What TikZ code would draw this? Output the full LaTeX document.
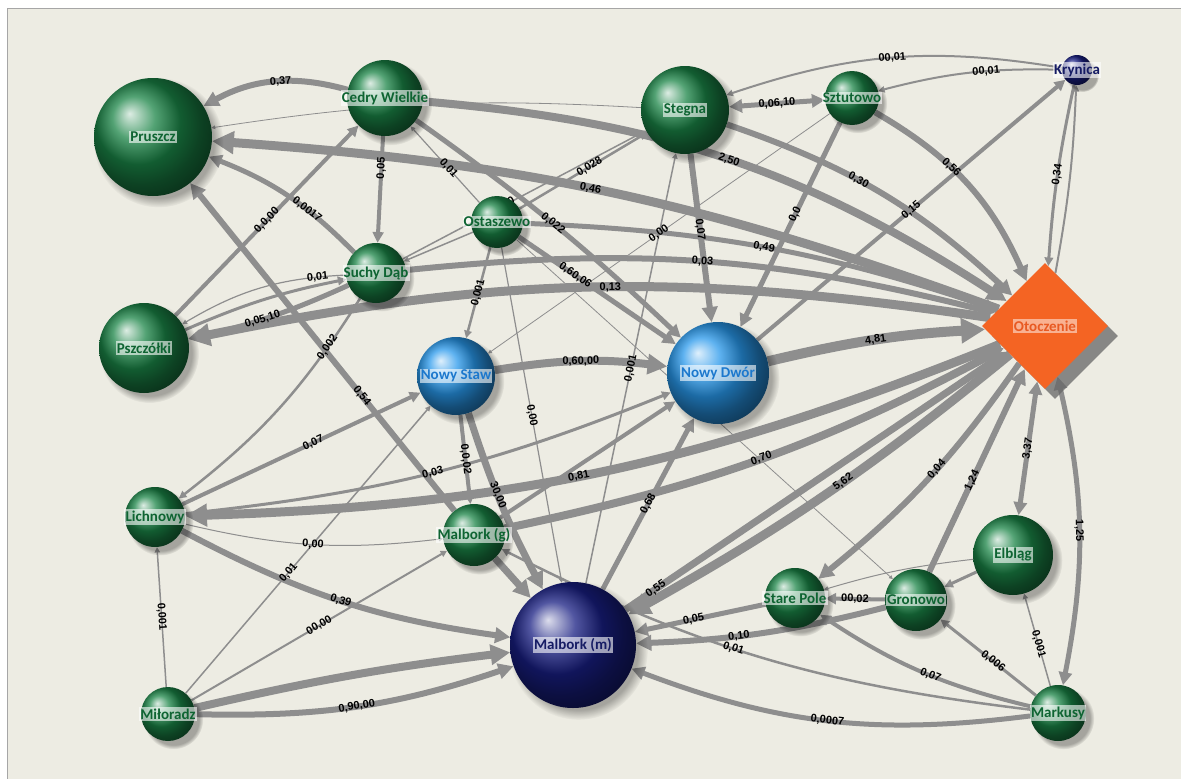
\documentclass[tikz,border=0pt]{standalone}
\usepackage{fontspec}
\setmainfont{Carlito}
\newfontfamily\labfont{Liberation Sans}
\usetikzlibrary{arrows.meta,shapes.geometric,shadows}
\definecolor{bgc}{RGB}{237,236,227}
\definecolor{egray}{RGB}{142,142,142}
\definecolor{gball}{RGB}{26,132,70}
\definecolor{gtext}{RGB}{14,100,50}
\definecolor{bball}{RGB}{40,152,235}
\definecolor{btext}{RGB}{28,120,205}
\definecolor{nball}{RGB}{24,30,130}
\definecolor{ntext}{RGB}{22,28,100}
\definecolor{oran}{RGB}{244,100,35}
\definecolor{otext}{RGB}{232,90,35}
\pgfdeclarelayer{bglayer}
\pgfdeclarelayer{edgelayer}
\pgfdeclarelayer{labellayer}
\pgfsetlayers{bglayer,edgelayer,labellayer,main}
\tikzset{
  >={Triangle[length=2pt 2.2,width=2pt 2.2]},
  edge/.style={draw=egray,->},
  both/.style={<->},
  elab/.style={font=\labfont\bfseries\fontsize{11}{12}\selectfont,text=black,inner sep=0.3pt,sloped},
  sphere/.style={circle,inner sep=0pt,minimum size=#1,
    circular drop shadow={shadow xshift=5pt,shadow yshift=-5pt,opacity=0.3,fill=black}},
  gs/.style={sphere=#1,ball color=gball},
  bs/.style={sphere=#1,ball color=bball},
  ns/.style={sphere=#1,ball color=nball},
  nl/.style={font=\bfseries\fontsize{15}{17}\selectfont,inner sep=1.2pt,fill=white,fill opacity=0.6,text opacity=1},
  gl/.style={nl,text=gtext},
  bl/.style={nl,text=btext},
  nvl/.style={nl,text=ntext},
  ol/.style={nl,text=otext,fill opacity=0.5},
}
\newcommand\EdgeList{%
\E{line width=6pt}{cw}{pr}{bend right=22}{0,37}{0.45}%
\E{line width=0.8pt}{st}{pr}{bend right=6}{}{0.5}%
\E{line width=9pt}{ot}{pr}{bend right=8}{0,46}{0.53}%
\E{line width=8pt}{cw}{ot}{bend left=14}{2,50}{0.5}%
\E{line width=5pt}{sd}{pr}{bend right=12}{0,0017}{0.35}%
\E{line width=4pt}{ps}{cw}{}{0,0,00}{0.5}%
\E{line width=6pt}{mg}{pr}{}{0,54}{0.35}%
\E{line width=4pt}{cw}{sd}{}{0,05}{0.3}%
\E{line width=1.2pt}{os}{cw}{}{0,01}{0.45}%
\E{line width=5pt}{cw}{nd}{bend left=4}{0,022}{0.5}%
\E{line width=5pt}{os}{nd}{}{0,60,06}{0.36}%
\E{line width=2.5pt}{os}{st}{}{0,028}{0.55}%
\E{line width=1.5pt}{sd}{st}{}{0,0}{0.43}%
\E{line width=0.8pt}{sz}{ns}{}{0,00}{0.5}%
\E{line width=5pt,both}{st}{sz}{}{0,06,10}{0.5}%
\E{line width=2pt}{kr}{st}{bend right=14}{00,01}{0.5}%
\E{line width=2pt}{kr}{sz}{bend right=8}{00,01}{0.4}%
\E{line width=6pt}{sz}{ot}{bend left=18}{0,56}{0.4}%
\E{line width=4pt}{nd}{kr}{}{0,15}{0.5}%
\E{line width=5pt}{sz}{nd}{}{0,0}{0.45}%
\E{line width=6pt}{st}{ot}{bend left=12}{0,30}{0.42}%
\E{line width=3pt}{kr}{ot}{bend right=4}{0,34}{0.5}%
\E{line width=2pt}{ot}{kr}{bend right=4}{}{0.5}%
\E{line width=5pt}{os}{ot}{bend left=8}{0,49}{0.5}%
\E{line width=6pt}{sd}{ot}{bend left=10}{0,03}{0.5}%
\E{line width=9pt}{ot}{ps}{bend right=10}{0,13}{0.47}%
\E{line width=5pt}{sd}{ps}{bend left=6}{0,05,10}{0.55}%
\E{line width=3pt}{ps}{sd}{bend left=6}{}{0.5}%
\E{line width=1.2pt}{sd}{ps}{bend right=14}{0,01}{0.15}%
\E{line width=2.5pt}{sd}{li}{bend left=10}{0,002}{0.2}%
\E{line width=2.5pt}{os}{ns}{}{0,001}{0.5}%
\E{line width=1.2pt}{os}{mm}{}{0,00}{0.5}%
\E{line width=1.5pt}{os}{sd}{}{}{0.5}%
\E{line width=0.8pt}{os}{gr}{}{0,00}{0.45}%
\E{line width=8pt}{ns}{nd}{bend left=8}{0,60,00}{0.5}%
\E{line width=1.5pt}{mm}{st}{}{0,001}{0.5}%
\E{line width=6pt}{st}{nd}{}{0,07}{0.45}%
\E{line width=10pt}{nd}{ot}{bend left=5}{4,81}{0.5}%
\E{line width=4pt}{li}{ns}{}{0,07}{0.55}%
\E{line width=1.5pt}{mi}{ns}{}{0,01}{0.42}%
\E{line width=1pt}{li}{mg}{bend right=10}{0,00}{0.5}%
\E{line width=6pt}{li}{mm}{bend right=10}{0,39}{0.5}%
\E{line width=1.5pt}{mi}{li}{}{0,001}{0.5}%
\E{line width=2pt}{mi}{mg}{}{00,00}{0.5}%
\E{line width=8pt}{mi}{mm}{bend left=3}{}{0.5}%
\E{line width=6pt}{mi}{mm}{bend right=10}{0,90,00}{0.5}%
\E{line width=9pt}{ot}{li}{bend left=10}{0,81}{0.53}%
\E{line width=3pt}{li}{nd}{bend right=8}{0,03}{0.5}%
\E{line width=4pt}{ns}{mg}{}{0,0,02}{0.5}%
\E{line width=7pt}{ns}{mm}{bend right=5}{30,00}{0.45}%
\E{line width=7pt}{mg}{mm}{}{}{0.5}%
\E{line width=8pt}{mg}{ot}{bend right=8}{0,70}{0.5}%
\E{line width=4pt}{mg}{nd}{}{}{0.5}%
\E{line width=5pt}{mm}{nd}{}{0,68}{0.5}%
\E{line width=7pt}{mm}{ot}{}{0,55}{0.08}%
\E{line width=9pt}{ot}{mm}{bend left=5}{5,62}{0.45}%
\E{line width=6pt}{ot}{sp}{bend left=8}{0,04}{0.45}%
\E{line width=6pt}{gr}{ot}{}{1,24}{0.45}%
\E{line width=5pt,both}{el}{ot}{}{3,37}{0.5}%
\E{line width=5pt,both}{mk}{ot}{bend right=12}{1,25}{0.5}%
\E{line width=3pt}{el}{gr}{}{}{0.5}%
\E{line width=1pt}{el}{sp}{bend right=5}{}{0.5}%
\E{line width=4pt}{gr}{sp}{}{00,02}{0.5}%
\E{line width=5pt}{sp}{mm}{}{0,05}{0.55}%
\E{line width=6pt}{gr}{mm}{bend left=6}{0,10}{0.6}%
\E{line width=2.5pt}{mk}{mg}{bend left=10}{0,01}{0.55}%
\E{line width=4pt}{mk}{sp}{bend left=10}{0,07}{0.45}%
\E{line width=3pt}{mk}{gr}{}{0,006}{0.45}%
\E{line width=5pt}{mk}{mm}{bend left=14}{0,0007}{0.5}%
\E{line width=1.5pt}{mk}{el}{}{0,001}{0.45}%
}
\begin{document}
\begin{tikzpicture}[x=1pt,y=1pt]
\useasboundingbox (0,0) rectangle (1181,-779);
\begin{pgfonlayer}{bglayer}
\fill[white] (0,0) rectangle (1181,-779);
\filldraw[fill=bgc,draw=black!35,line width=0.8pt] (7,-8) rectangle (1185,-785);
\end{pgfonlayer}
% nodes
\node[gs=118pt] (pr) at (153,-137) {};
\node[gs=76pt] (cw) at (385,-98) {};
\node[gs=88pt] (st) at (685,-110) {};
\node[gs=54pt] (sz) at (852,-98) {};
\node[ns=30pt] (kr) at (1077,-70) {};
\node[gs=52pt] (os) at (497,-222) {};
\node[gs=60pt] (sd) at (376,-273) {};
\node[gs=90pt] (ps) at (144,-348) {};
\node[bs=78pt] (ns) at (456,-376) {};
\node[bs=102pt] (nd) at (718,-373) {};
\node[gs=60pt] (li) at (155,-517) {};
\node[gs=62pt] (mg) at (474,-535) {};
\node[ns=126pt] (mm) at (573,-645) {};
\node[gs=60pt] (sp) at (795,-598) {};
\node[gs=62pt] (gr) at (916,-600) {};
\node[gs=80pt] (el) at (1013,-555) {};
\node[gs=54pt] (mi) at (168,-714) {};
\node[gs=56pt] (mk) at (1058,-713) {};
\node[diamond,aspect=1,minimum width=126pt,minimum height=126pt,inner sep=0pt,fill=oran,
  drop shadow={shadow xshift=10pt,shadow yshift=-10pt,opacity=0.75,fill=black!60}] (ot) at (1045,-326) {};
% node labels
\node[gl] (lpr) at (pr) {Pruszcz};
\node[gl] (lcw) at (cw) {Cedry Wielkie};
\node[gl] (lst) at (st) {Stegna};
\node[gl] (lsz) at (sz) {Sztutowo};
\node[nvl] (lkr) at (kr) {Krynica};
\node[gl] (los) at (os) {Ostaszewo};
\node[gl] (lsd) at (sd) {Suchy Dąb};
\node[gl] (lps) at (ps) {Pszczółki};
\node[bl] (lns) at (ns) {Nowy Staw};
\node[bl] (lnd) at (nd) {Nowy Dwór};
\node[gl] (lli) at (li) {Lichnowy};
\node[gl] (lmg) at (mg) {Malbork (g)};
\node[nvl] (lmm) at (mm) {Malbork (m)};
\node[gl] (lsp) at (sp) {Stare Pole};
\node[gl] (lgr) at (gr) {Gronowo};
\node[gl] (lel) at (el) {Elbląg};
\node[gl] (lmi) at (mi) {Miłoradz};
\node[gl] (lmk) at (mk) {Markusy};
\node[ol] (lot) at (ot) {Otoczenie};
% edges
\begin{pgfonlayer}{edgelayer}
\def\E#1#2#3#4#5#6{\draw[edge,#1] (#2) to[#4] (#3);}
\EdgeList
\end{pgfonlayer}
\begin{pgfonlayer}{labellayer}
\def\E#1#2#3#4#5#6{\path (#2) to[#4] node[elab,pos=#6]{#5} (#3);}
\EdgeList
\end{pgfonlayer}
\end{tikzpicture}
\end{document}
